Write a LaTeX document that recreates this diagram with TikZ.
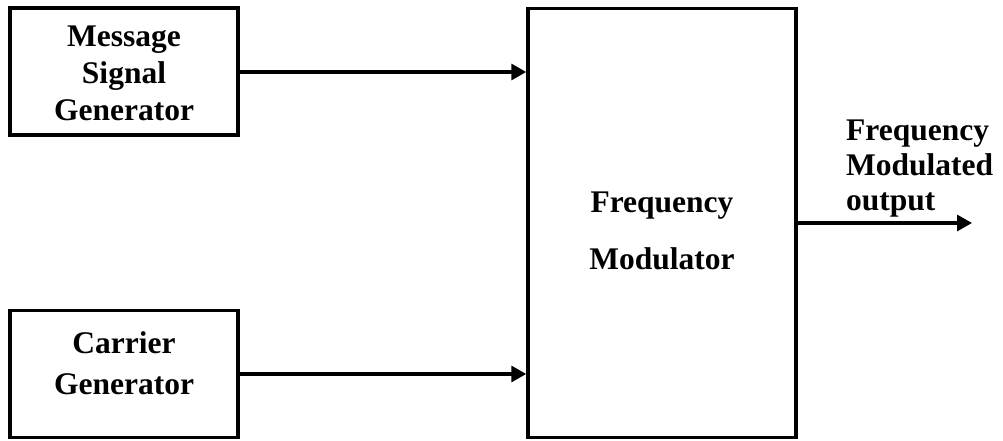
\documentclass[tikz,border=0pt]{standalone}
\usepackage{fontspec}
\setmainfont{Liberation Serif}
\usetikzlibrary{arrows.meta}
\begin{document}
\begin{tikzpicture}[x=1pt,y=-1pt,
  blk/.style={draw,line width=3.5pt,inner sep=0pt},
  lbl/.style={font=\bfseries\fontsize{31.5}{37}\selectfont,align=center},
  conn/.style={line width=3.2pt,-{Triangle[length=15pt,width=16pt]}}]
\useasboundingbox (0,0) rectangle (1003,441);
\node[blk,minimum width=228pt,minimum height=127pt] (msg) at (124,71.5) {};
\node[lbl] at (124,73.5) {Message\\Signal\\Generator};
\node[blk,minimum width=228pt,minimum height=127pt] (car) at (124,374) {};
\node[lbl,font=\bfseries\fontsize{31.5}{41}\selectfont] at (124,363) {Carrier\\Generator};
\node[blk,minimum width=268pt,minimum height=429pt] (mod) at (662,223) {};
\node[lbl,font=\bfseries\fontsize{31.5}{57}\selectfont] at (662,231) {Frequency\\Modulator};
\coordinate (out) at (972,223);
\draw[conn] (msg.east |- 0,72) -- (mod.west |- 0,72);
\draw[conn] (car.east |- 0,374) -- (mod.west |- 0,374);
\draw[conn] (mod.east |- out) -- (out);
\node[lbl,align=left,anchor=south west,inner sep=0pt,font=\bfseries\fontsize{31.5}{35}\selectfont] at (846,217) {Frequency\\Modulated\\output};
\end{tikzpicture}
\end{document}
